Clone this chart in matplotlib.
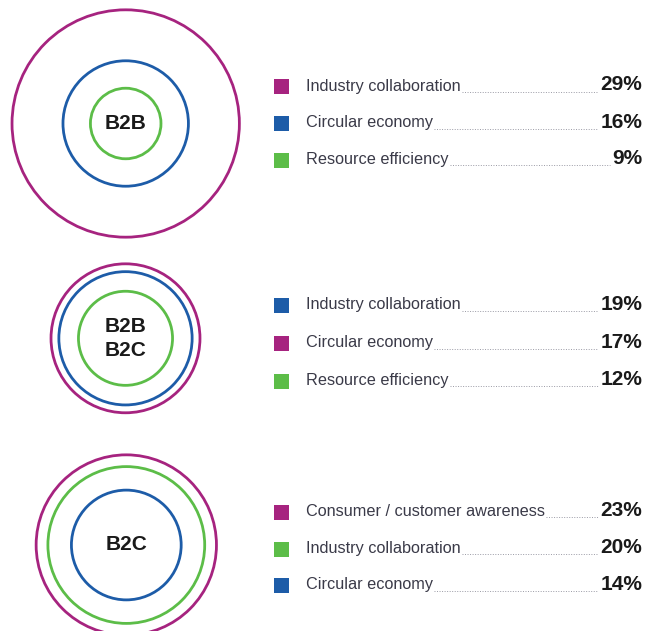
import matplotlib
matplotlib.use('Agg')
import matplotlib.pyplot as plt
from matplotlib.patches import Circle, Rectangle

MAGENTA = '#a6237f'
BLUE = '#1d5ca8'
GREEN = '#5cbd48'

# ---- data ----
group_names = ['B2B', 'B2B\nB2C', 'B2C']

b2b_labels = ['Industry collaboration', 'Circular economy', 'Resource efficiency']
b2b_values = [29, 16, 9]
b2b_legend_colors = [MAGENTA, BLUE, GREEN]
b2b_ring_colors = [MAGENTA, BLUE, GREEN]

mix_labels = ['Industry collaboration', 'Circular economy', 'Resource efficiency']
mix_values = [19, 17, 12]
mix_legend_colors = [BLUE, MAGENTA, GREEN]
mix_ring_colors = [MAGENTA, BLUE, GREEN]

b2c_labels = ['Consumer / customer awareness', 'Industry collaboration', 'Circular economy']
b2c_values = [23, 20, 14]
b2c_legend_colors = [MAGENTA, GREEN, BLUE]
b2c_ring_colors = [MAGENTA, GREEN, BLUE]

groups = [
    (b2b_labels, b2b_values, b2b_legend_colors, b2b_ring_colors),
    (mix_labels, mix_values, mix_legend_colors, mix_ring_colors),
    (b2c_labels, b2c_values, b2c_legend_colors, b2c_ring_colors),
]

# ---- layout ----
W, H = 647, 631
SCALE = 3.92  # px per percentage point of radius
centers = [(125.7, 123.5), (125.5, 338.3), (126.3, 545.0)]
row_ys = [[86.5, 123.5, 160.0], [305.5, 343.5, 381.0], [512.0, 549.0, 585.5]]
SQ_X, SQ = 273.5, 15
TXT_X = 306
PCT_X = 642

fig = plt.figure(figsize=(W / 100, H / 100), dpi=100)
ax = fig.add_axes([0, 0, 1, 1])
ax.set_xlim(0, W)
ax.set_ylim(H, 0)
ax.axis('off')

label_font = ['Liberation Sans', 'DejaVu Sans']

pairs = []
for gi, (labels, values, lcols, rcols) in enumerate(groups):
    cx, cy = centers[gi]
    for v, c in zip(values, rcols):
        ax.add_patch(Circle((cx, cy), v * SCALE, fill=False, ec=c, lw=2.0))
    ax.text(cx, cy, group_names[gi], ha='center', va='center', fontsize=15,
            fontweight='bold', family=label_font, color='#1a1a1a', linespacing=1.3)
    for lab, v, c, y in zip(labels, values, lcols, row_ys[gi]):
        ax.add_patch(Rectangle((SQ_X, y - SQ / 2), SQ, SQ, fc=c, ec='none'))
        t = ax.text(TXT_X, y - 0.5, lab, ha='left', va='center', fontsize=11.7,
                    family=label_font, color='#3a3a48')
        p = ax.text(PCT_X, y - 1.5, f'{v}%', ha='right', va='center', fontsize=15,
                    fontweight='bold', family=label_font, color='#1a1a1a')
        pairs.append((t, p, y))

fig.canvas.draw()
renderer = fig.canvas.get_renderer()
inv = ax.transData.inverted()
for t, p, y in pairs:
    tb = t.get_window_extent(renderer)
    pb = p.get_window_extent(renderer)
    x0 = inv.transform((tb.x1, 0))[0] + 1
    x1 = inv.transform((pb.x0, 0))[0] - 2
    ax.plot([x0, x1], [y + 5, y + 5], color='#9a9aa5', lw=0.7,
            linestyle=(0, (1, 1.6)))

fig.savefig('out.png', dpi=100, facecolor='white')
